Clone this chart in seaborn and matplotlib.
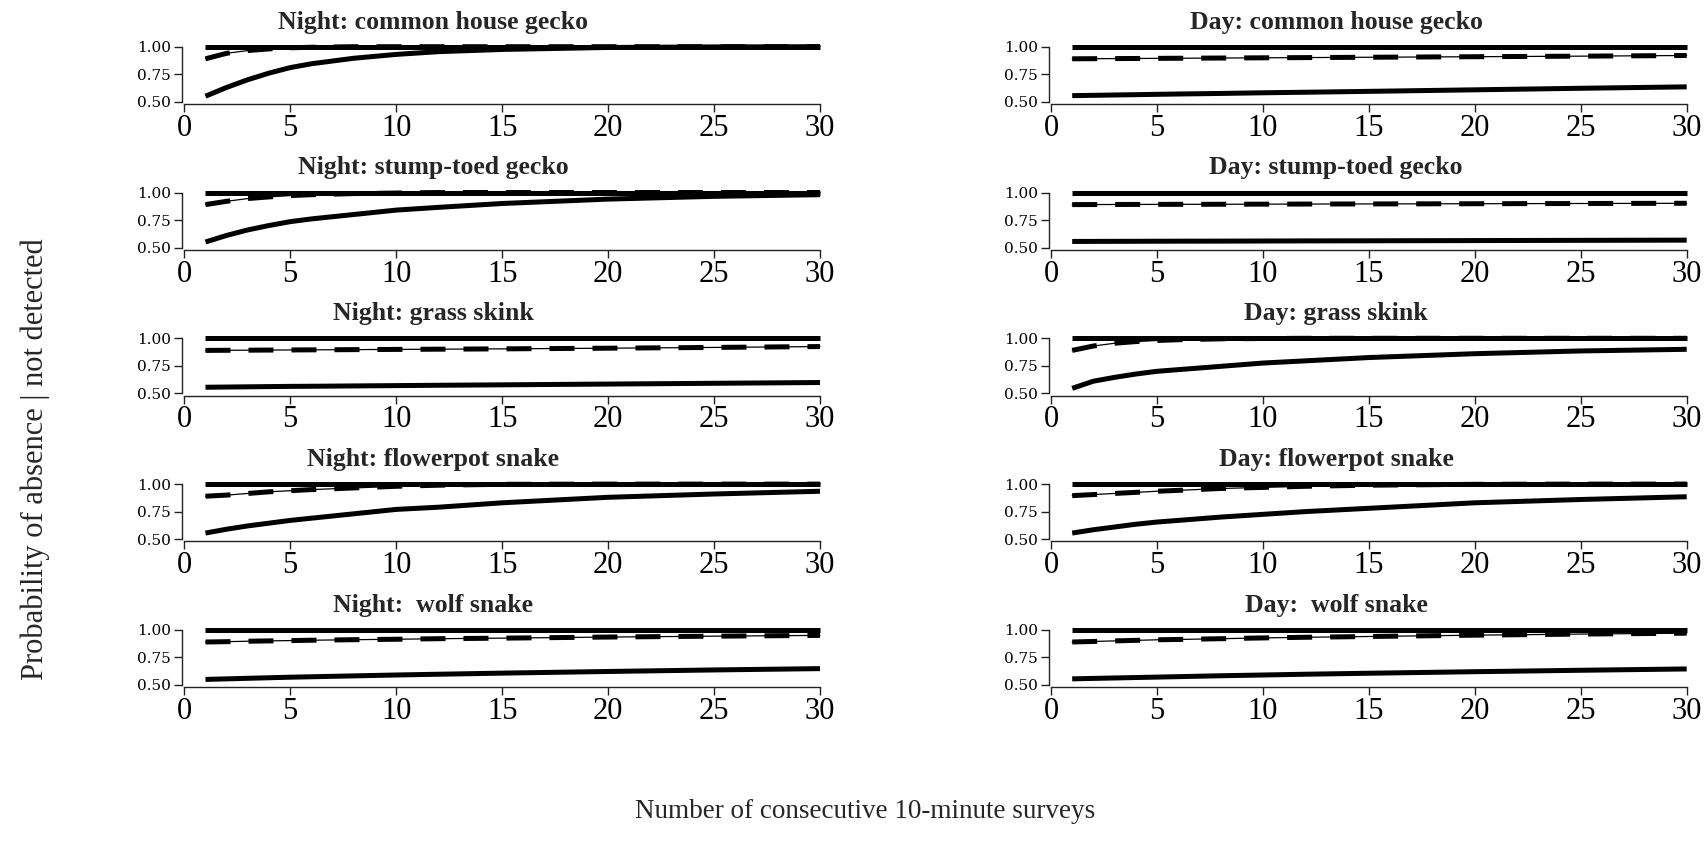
import numpy as np
import pandas as pd
import matplotlib
matplotlib.use("Agg")
import matplotlib.pyplot as plt
import seaborn as sns

# Survey counts at which the curves are tabulated
surveys = [1, 2, 3, 4, 5, 6, 8, 10, 12, 15, 20, 25, 30]

panel_titles = [
    "Night: common house gecko", "Day: common house gecko",
    "Night: stump-toed gecko", "Day: stump-toed gecko",
    "Night: grass skink", "Day: grass skink",
    "Night: flowerpot snake", "Day: flowerpot snake",
    "Night:  wolf snake", "Day:  wolf snake",
]

# Upper curve (same in every panel)
upper = [1.0] * len(surveys)

# Middle curves (dashed) per panel
mid_night_chg = [0.89, 0.94, 0.965, 0.98, 0.99, 0.995, 1.0, 1.0, 1.0, 1.0, 1.0, 1.0, 1.0]
mid_day_chg = [0.89, 0.891, 0.892, 0.893, 0.894, 0.895, 0.897, 0.899, 0.901, 0.904, 0.909, 0.914, 0.92]
mid_night_stg = [0.89, 0.92, 0.945, 0.96, 0.972, 0.98, 0.99, 0.995, 1.0, 1.0, 1.0, 1.0, 1.0]
mid_day_stg = [0.89, 0.8905, 0.891, 0.8915, 0.892, 0.8925, 0.893, 0.894, 0.895, 0.896, 0.898, 0.900, 0.902]
mid_night_gs = [0.89, 0.891, 0.892, 0.893, 0.894, 0.895, 0.897, 0.899, 0.901, 0.904, 0.910, 0.917, 0.925]
mid_day_gs = [0.89, 0.93, 0.955, 0.97, 0.98, 0.987, 0.995, 0.998, 1.0, 1.0, 1.0, 1.0, 1.0]
mid_night_fs = [0.89, 0.90, 0.915, 0.93, 0.94, 0.95, 0.965, 0.98, 0.99, 0.998, 1.0, 1.0, 1.0]
mid_day_fs = [0.895, 0.905, 0.915, 0.925, 0.935, 0.943, 0.96, 0.97, 0.98, 0.99, 0.998, 1.0, 1.0]
mid_night_ws = [0.89, 0.893, 0.897, 0.90, 0.903, 0.906, 0.911, 0.915, 0.92, 0.925, 0.935, 0.943, 0.95]
mid_day_ws = [0.89, 0.895, 0.90, 0.905, 0.91, 0.913, 0.92, 0.927, 0.933, 0.94, 0.952, 0.962, 0.97]

# Lower curves per panel
low_night_chg = [0.55, 0.63, 0.70, 0.76, 0.81, 0.845, 0.895, 0.93, 0.955, 0.975, 0.993, 0.998, 1.0]
low_day_chg = [0.555, 0.558, 0.561, 0.564, 0.567, 0.570, 0.575, 0.581, 0.586, 0.594, 0.608, 0.622, 0.635]
low_night_stg = [0.55, 0.61, 0.66, 0.70, 0.735, 0.76, 0.80, 0.84, 0.865, 0.90, 0.94, 0.965, 0.98]
low_day_stg = [0.555, 0.5555, 0.556, 0.5565, 0.557, 0.5575, 0.558, 0.559, 0.560, 0.561, 0.563, 0.565, 0.567]
low_night_gs = [0.555, 0.557, 0.559, 0.561, 0.563, 0.564, 0.567, 0.570, 0.573, 0.577, 0.584, 0.591, 0.598]
low_day_gs = [0.545, 0.61, 0.645, 0.675, 0.70, 0.715, 0.745, 0.775, 0.795, 0.825, 0.86, 0.885, 0.90]
low_night_fs = [0.555, 0.59, 0.62, 0.645, 0.67, 0.69, 0.73, 0.77, 0.79, 0.83, 0.88, 0.91, 0.935]
low_day_fs = [0.555, 0.585, 0.61, 0.635, 0.655, 0.67, 0.70, 0.725, 0.75, 0.78, 0.83, 0.86, 0.885]
low_night_ws = [0.55, 0.555, 0.56, 0.565, 0.57, 0.574, 0.582, 0.59, 0.597, 0.607, 0.622, 0.636, 0.648]
low_day_ws = [0.555, 0.559, 0.563, 0.567, 0.571, 0.575, 0.583, 0.59, 0.597, 0.606, 0.62, 0.633, 0.645]

mid_curves = [mid_night_chg, mid_day_chg, mid_night_stg, mid_day_stg, mid_night_gs,
              mid_day_gs, mid_night_fs, mid_day_fs, mid_night_ws, mid_day_ws]
low_curves = [low_night_chg, low_day_chg, low_night_stg, low_day_stg, low_night_gs,
              low_day_gs, low_night_fs, low_day_fs, low_night_ws, low_day_ws]

x_ticks = [0, 5, 10, 15, 20, 25, 30]
y_ticks = [0.50, 0.75, 1.00]
y_tick_labels = ["0.50", "0.75", "1.00"]

sns.set_style("ticks")
plt.rcParams["font.family"] = ["Liberation Serif", "DejaVu Serif"]

W, H = 1706, 841
fig = plt.figure(figsize=(W / 100, H / 100), dpi=100)

px_per_x = 635.7 / 30.0
px_per_y = 110.0
xlim = (-0.1, 30.3)
ylim = (0.479, 1.03)
col_x0 = [184.3, 1051.0]      # pixel of x = 0 in each column
row_top = 46.7                 # pixel of y = 1.00 in first row
row_step = 145.8
title_cx = [433, 1336]

thick = 3.6
for i, title in enumerate(panel_titles):
    r, c = divmod(i, 2)
    left_px = col_x0[c] + xlim[0] * px_per_x
    width_px = (xlim[1] - xlim[0]) * px_per_x
    top_px = row_top + r * row_step - (ylim[1] - 1.0) * px_per_y
    height_px = (ylim[1] - ylim[0]) * px_per_y
    ax = fig.add_axes([left_px / W, 1 - (top_px + height_px) / H, width_px / W, height_px / H])

    df = pd.DataFrame({"n": surveys, "upper": upper, "mid": mid_curves[i], "low": low_curves[i]})
    sns.lineplot(data=df, x="n", y="upper", ax=ax, color="black", lw=thick,
                 solid_capstyle="butt", clip_on=False)
    sns.lineplot(data=df, x="n", y="mid", ax=ax, color="black", lw=0.9, clip_on=False)
    sns.lineplot(data=df, x="n", y="mid", ax=ax, color="black", lw=thick,
                 clip_on=False).lines[-1].set_dashes([5.0, 3.6])
    sns.lineplot(data=df, x="n", y="low", ax=ax, color="black", lw=thick,
                 solid_capstyle="butt", clip_on=False)

    ax.set_xlim(*xlim)
    ax.set_ylim(*ylim)
    ax.set_xlabel("")
    ax.set_ylabel("")
    ax.set_xticks(x_ticks)
    ax.set_xticklabels([str(t) for t in x_ticks], fontsize=22, family="Liberation Serif")
    ax.set_yticks(y_ticks)
    ax.set_yticklabels(y_tick_labels, fontsize=11, family="DejaVu Serif")
    for side in ("top", "right"):
        ax.spines[side].set_visible(False)
    ax.spines["bottom"].set_bounds(0, 30)
    ax.spines["left"].set_bounds(0.5, 1.0)
    for side in ("bottom", "left"):
        ax.spines[side].set_linewidth(1.0)
        ax.spines[side].set_color("#222222")
    ax.tick_params(axis="x", length=6, width=1.0, pad=1, colors="#222222", labelcolor="black")
    ax.tick_params(axis="y", length=6, width=1.0, pad=2, colors="#222222", labelcolor="black")
    ax.set_facecolor("none")

    fig.text(title_cx[c] / W, 1 - (22 + r * row_step) / H, title, ha="center", va="center",
             fontsize=18.5, fontweight="bold", family="Liberation Serif")

fig.text(35 / W, 1 - 459.5 / H, "Probability of absence | not detected", rotation=90,
         ha="center", va="center", fontsize=22, family="Liberation Serif")
fig.text(865 / W, 1 - 812 / H, "Number of consecutive 10-minute surveys",
         ha="center", va="center", fontsize=19.5, family="Liberation Serif")

fig.savefig("out.png", dpi=100, facecolor="white")
